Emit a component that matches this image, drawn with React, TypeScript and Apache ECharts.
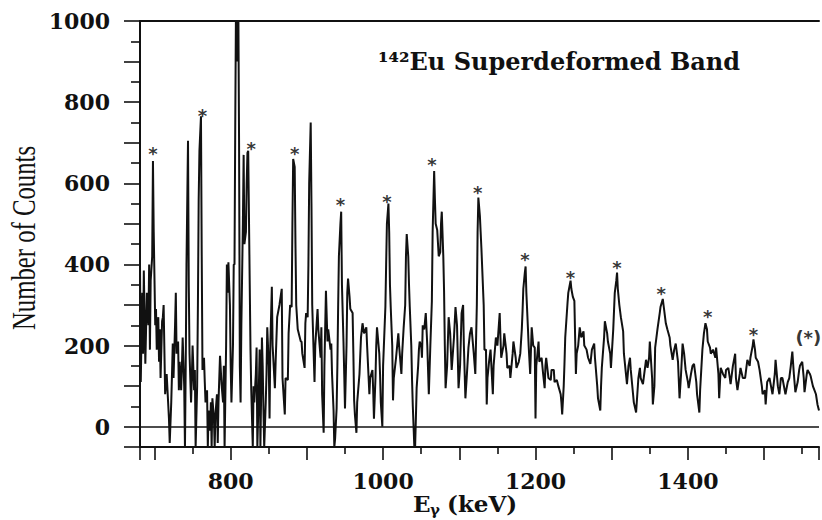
import React, { useEffect, useRef } from "react";
import * as echarts from "echarts";

// Gamma-ray spectrum of the 142Eu superdeformed band: [E (keV), counts]
const spectrum700: [number, number][] = [
  [681, 400], [682, 110], [684, 330], [685, 180], [686, 385], [688, 155], [690, 330], [692, 250],
  [693, 400], [694, 190], [695, 360], [697, 420], [698, 655], [699, 480], [701, 250], [702, 290],
  [703, 190], [705, 270], [706, 160], [707, 240], [708, 120], [710, 260], [711, 270], [712, 300],
  [714, 80], [716, 130], [719, 20], [720, -40], [722, 60], [723, 130], [724, 205], [725, 120],
  [727, 250], [728, 330], [729, 180], [731, 210], [732, 90], [733, 160], [735, 90], [736, 150],
  [737, 220], [739, 100], [740, -50], [741, 150], [742, 400], [744, 705], [745, 350], [746, 180],
  [748, 60], [749, 120], [750, 200], [752, 90], [753, 140], [754, -50], [756, 100], [757, 300],
  [758, 560], [759, 680], [761, 765], [762, 420], [763, 140], [765, 170], [766, 110], [767, 60],
  [769, 90], [770, -50], [771, 40], [773, -10], [774, 60], [775, -50], [776, 70], [778, 20],
  [779, -50], [780, 30], [782, 80], [783, -40], [784, 60], [786, 175], [787, 140], [788, 105],
  [790, 60], [791, 150], [792, -50], [794, 200], [795, 400], [796, 330], [797, 405], [799, 300],
];

const spectrum800: [number, number][] = [
  [800, 150], [801, 60], [803, 200], [804, 400], [805, 400], [806, 750], [807, 1050], [808, 900],
  [809, 1050], [810, 1050], [811, 700], [812, 150], [813, 60], [814, 250], [816, 500], [817, 670],
  [818, 450], [820, 480], [821, 600], [822, 675], [823, 680], [825, 350], [826, 190], [827, 90],
  [829, -50], [830, 100], [831, 60], [833, 130], [834, 195], [835, -50], [837, 100], [838, 190],
  [839, -50], [841, 220], [842, 150], [843, 40], [844, -50], [846, 60], [847, 130], [848, 245],
  [850, 150], [851, 20], [852, 200], [854, 345], [855, 200], [858, 95], [859, 160], [861, 270],
  [864, 300], [867, 340], [868, 120], [871, 30], [872, 120], [875, 115], [876, 230], [878, 300],
  [880, 295], [881, 500], [882, 660], [884, 640], [885, 450], [886, 300], [888, 240], [890, 225],
  [892, 210], [893, 210], [894, 180], [897, 145], [898, 255], [899, 280], [901, 270], [902, 400],
  [903, 600], [905, 750], [906, 550], [907, 300],
];

const spectrum900: [number, number][] = [
  [910, 110], [911, 200], [914, 290], [915, 240], [918, 170], [919, 245], [920, 80], [922, -15],
  [923, 150], [925, 335], [927, 210], [928, 240], [931, 190], [932, 205], [933, 130], [935, 40],
  [936, -50], [937, -30], [939, 45], [940, 150], [941, 295], [942, 420], [944, 500], [945, 530],
  [946, 350], [948, 210], [949, 130], [950, 45], [952, 200], [953, 330], [954, 365], [956, 320],
  [957, 290], [960, 280], [961, 180], [962, 65], [963, 30], [965, -15], [966, 60], [969, 130],
  [971, 220], [973, 255], [975, 230], [978, 245], [979, 200], [982, 80], [983, 120], [986, 140],
  [987, 90], [988, 20], [990, 120], [991, 200], [992, 245], [995, 180], [996, 130], [997, 60],
  [999, 0], [1000, 150], [1003, 295], [1004, 400], [1005, 500], [1007, 550], [1008, 480], [1009, 350],
  [1010, 295], [1012, 200], [1013, 65], [1014, 120], [1017, 170], [1020, 230], [1021, 200], [1024, 130],
  [1025, 180], [1027, 245], [1029, 300], [1030, 420], [1031, 475], [1033, 420], [1034, 350], [1035, 295],
  [1037, 200], [1038, 115], [1039, 50], [1041, -50], [1042, -50], [1043, 20], [1044, 95], [1046, 150],
  [1047, 190], [1048, 210], [1050, 200], [1051, 170], [1052, 250], [1054, 240], [1056, 280], [1058, 200],
  [1059, 140], [1060, 80], [1062, 200], [1064, 310], [1065, 480], [1067, 630], [1068, 560], [1069, 500],
  [1071, 485], [1073, 420], [1075, 430], [1076, 500], [1077, 530], [1079, 420], [1080, 335], [1081, 200],
  [1082, 95], [1084, 150], [1086, 270], [1088, 230], [1090, 140], [1093, 220], [1095, 295], [1097, 250],
  [1099, 95], [1101, 150], [1103, 280], [1105, 300], [1106, 200], [1108, 70], [1110, 130], [1112, 195],
  [1114, 230], [1116, 245], [1119, 180], [1121, 130], [1123, 300], [1124, 480], [1125, 565], [1127, 520],
  [1128, 480], [1129, 440],
];

const spectrum1130: [number, number][] = [
  [1132, 300], [1133, 190], [1135, 190], [1136, 55], [1137, 120], [1139, 160], [1141, 190], [1144, 80],
  [1145, 150], [1148, 220], [1150, 200], [1153, 280], [1154, 220], [1155, 170], [1158, 200], [1159, 230],
  [1162, 180], [1163, 145], [1166, 150], [1167, 120], [1170, 180], [1171, 210], [1174, 170], [1175, 145],
  [1178, 160], [1180, 180], [1182, 240], [1183, 285], [1184, 340], [1186, 380], [1187, 395], [1188, 330],
  [1190, 245], [1191, 200], [1193, 130], [1195, 245], [1197, 200], [1199, 195], [1200, 20], [1201, 150],
  [1204, 210], [1205, 160], [1208, 170], [1210, 130], [1212, 95], [1213, 150], [1214, 170], [1217, 120],
  [1220, 115], [1221, 140], [1224, 140], [1225, 110], [1228, 115], [1230, 100], [1233, 80], [1234, 60],
  [1235, 30], [1237, 100], [1238, 155], [1239, 220], [1242, 305], [1243, 330], [1245, 350], [1246, 360],
  [1247, 340], [1249, 320], [1251, 310], [1253, 130], [1254, 180], [1256, 200], [1258, 245], [1260, 220],
  [1263, 235], [1264, 200], [1267, 190], [1269, 170], [1272, 155], [1274, 190], [1277, 205], [1278, 170],
  [1281, 100], [1282, 70], [1285, 40], [1286, 100], [1287, 145], [1290, 220], [1291, 260], [1294, 230],
  [1295, 210], [1298, 180], [1299, 145],
];

const spectrum1300: [number, number][] = [
  [1302, 240], [1303, 285], [1304, 330], [1306, 360], [1307, 380], [1308, 340], [1310, 300], [1312, 270],
  [1315, 235], [1316, 180], [1320, 105], [1322, 150], [1324, 170], [1325, 140], [1328, 80], [1329, 60],
  [1332, 35], [1335, 120], [1337, 145], [1338, 120], [1341, 105], [1344, 150], [1345, 165], [1347, 145],
  [1349, 170], [1350, 210], [1353, 120], [1354, 55], [1356, 100], [1357, 195], [1360, 240], [1363, 280],
  [1364, 295], [1367, 315], [1368, 300], [1371, 255], [1373, 240], [1376, 220], [1377, 200], [1380, 165],
  [1382, 190], [1384, 205], [1387, 160], [1389, 70], [1391, 130], [1393, 205], [1395, 180], [1397, 140],
  [1400, 110], [1401, 95], [1404, 130], [1406, 150], [1408, 155], [1411, 110], [1412, 80], [1415, 35],
  [1416, 90], [1419, 190], [1421, 230], [1423, 255], [1425, 240], [1426, 210], [1429, 195], [1430, 180],
  [1433, 190], [1436, 170], [1437, 195], [1440, 130], [1441, 70], [1443, 145], [1446, 130], [1449, 120],
  [1450, 140], [1453, 145], [1455, 120], [1456, 105], [1459, 150], [1462, 180], [1463, 120], [1465, 90],
  [1468, 130], [1469, 145], [1472, 120], [1475, 120], [1477, 150], [1478, 165], [1481, 150], [1482, 170],
  [1485, 200], [1486, 215], [1488, 190], [1489, 170], [1492, 160], [1494, 140], [1497, 100], [1498, 80],
  [1501, 90], [1502, 55], [1504, 110], [1507, 120], [1509, 100], [1511, 80], [1514, 130], [1515, 165],
  [1518, 100], [1520, 80], [1522, 120], [1524, 120], [1527, 90], [1528, 80], [1531, 110], [1533, 120],
  [1535, 150], [1537, 185], [1539, 130], [1541, 85], [1544, 110], [1546, 140], [1547, 150], [1550, 160],
  [1552, 120], [1553, 85], [1556, 130], [1557, 140], [1560, 130], [1561, 125], [1564, 100], [1566, 90],
  [1568, 80], [1570, 55], [1572, 40],
];

// Superdeformed band members marked with an asterisk: energy and label height
const starEnergies = [698, 763, 827, 884, 944, 1005, 1064, 1124, 1186, 1246, 1307, 1365, 1426, 1486];
const starHeights = [686, 780, 699, 686, 560, 568, 659, 590, 425, 380, 405, 341, 284, 240];
const tentativeEnergies = [1558];
const tentativeHeights = [225];

// Axis extents and tick labels
const xRange = [681, 1572];
const yRange = [-50, 1000];
const labelStep = 200;

const TITLE = "¹⁴²Eu Superdeformed Band";
const Y_TITLE = "Number of Counts";

const SERIF = "'DejaVu Serif', serif";
const INK = "#111";

export default function App() {
  const ref = useRef<HTMLDivElement>(null);

  useEffect(() => {
    document.body.style.margin = "0";
    if (!ref.current) return;
    const chart = echarts.init(ref.current, undefined, { renderer: "svg" });

    const spectrum = [
      ...spectrum700,
      ...spectrum800,
      ...spectrum900,
      ...spectrum1130,
      ...spectrum1300,
    ];
    const stars = starEnergies.map((e, i) => [e, starHeights[i]]);
    const tentative = tentativeEnergies.map((e, i) => [e, tentativeHeights[i]]);

    const tickLabel = (v: number) =>
      Math.abs(v % labelStep) < 1e-6 ? String(v) : "";

    const labelFont = {
      fontFamily: SERIF,
      fontSize: 22,
      fontWeight: "bold" as const,
      color: INK,
    };

    const starLabel = {
      show: true,
      position: "inside" as const,
      fontFamily: "'DejaVu Sans', sans-serif",
      fontWeight: "bold" as const,
      fontSize: 18,
      color: "#000",
      textBorderWidth: 0,
      textBorderColor: "transparent",
      textShadowBlur: 0,
    };

    chart.setOption({
      animation: false,
      backgroundColor: "#fff",
      grid: { left: 140, right: 0, top: 21, bottom: 73, containLabel: false },
      xAxis: [
        {
          type: "value",
          min: xRange[0],
          max: xRange[1],
          splitNumber: 9,
          axisLine: { show: true, onZero: false, lineStyle: { color: INK, width: 2 } },
          axisTick: { show: true, length: 13, lineStyle: { color: INK, width: 1.6 } },
          minorTick: { show: true, splitNumber: 2, length: 7, lineStyle: { color: INK, width: 1.6 } },
          axisLabel: { ...labelFont, margin: 23, formatter: tickLabel },
          splitLine: { show: false },
        },
        {
          type: "value",
          position: "top",
          min: xRange[0],
          max: xRange[1],
          axisLine: { show: true, onZero: false, lineStyle: { color: INK, width: 2 } },
          axisTick: { show: false },
          axisLabel: { show: false },
          splitLine: { show: false },
        },
      ],
      yAxis: {
        type: "value",
        min: yRange[0],
        max: yRange[1],
        splitNumber: 10,
        axisLine: { show: true, onZero: false, lineStyle: { color: INK, width: 2 } },
        axisTick: { show: true, length: 16, lineStyle: { color: INK, width: 1.6 } },
        minorTick: { show: true, splitNumber: 2, length: 9, lineStyle: { color: INK, width: 1.6 } },
        axisLabel: { ...labelFont, margin: 30, formatter: tickLabel },
        splitLine: { show: false },
      },
      series: [
        {
          type: "line",
          data: spectrum,
          symbol: "none",
          lineStyle: { color: INK, width: 2 },
          clip: true,
          markLine: {
            silent: true,
            symbol: ["none", "none"],
            label: { show: false },
            lineStyle: { color: INK, width: 1.6, type: "solid" },
            data: [{ yAxis: 0 }],
          },
        },
        {
          type: "scatter",
          data: stars,
          symbolSize: 1,
          itemStyle: { color: "rgba(0,0,0,0)" },
          label: { ...starLabel, formatter: "*", offset: [0, 5] },
        },
        {
          type: "scatter",
          data: tentative,
          symbolSize: 1,
          itemStyle: { color: "rgba(0,0,0,0)" },
          label: { ...starLabel, formatter: "(*)", offset: [0, 2] },
        },
      ],
      graphic: [
        {
          type: "text",
          left: 378,
          top: 49,
          style: {
            text: TITLE,
            font: `bold 24px ${SERIF}`,
            fill: INK,
          },
        },
        {
          type: "text",
          x: 24,
          y: 238,
          rotation: Math.PI / 2,
          scaleX: 0.75,
          style: {
            text: Y_TITLE,
            font: "33px 'Liberation Serif', serif",
            fill: INK,
            align: "center",
            verticalAlign: "middle",
          },
        },
        {
          type: "group",
          left: 413,
          top: 492,
          children: [
            {
              type: "text",
              x: 0,
              y: 0,
              style: { text: "E", font: `bold 23px ${SERIF}`, fill: INK, verticalAlign: "top" },
            },
            {
              type: "text",
              x: 17,
              y: 10,
              style: { text: "γ", font: `bold 15px ${SERIF}`, fill: INK, verticalAlign: "top" },
            },
            {
              type: "text",
              x: 34,
              y: 0,
              style: { text: "(keV)", font: `bold 23px ${SERIF}`, fill: INK, verticalAlign: "top" },
            },
          ],
        },
      ],
    });

    return () => chart.dispose();
  }, []);

  return <div ref={ref} style={{ width: 822, height: 520 }} />;
}
